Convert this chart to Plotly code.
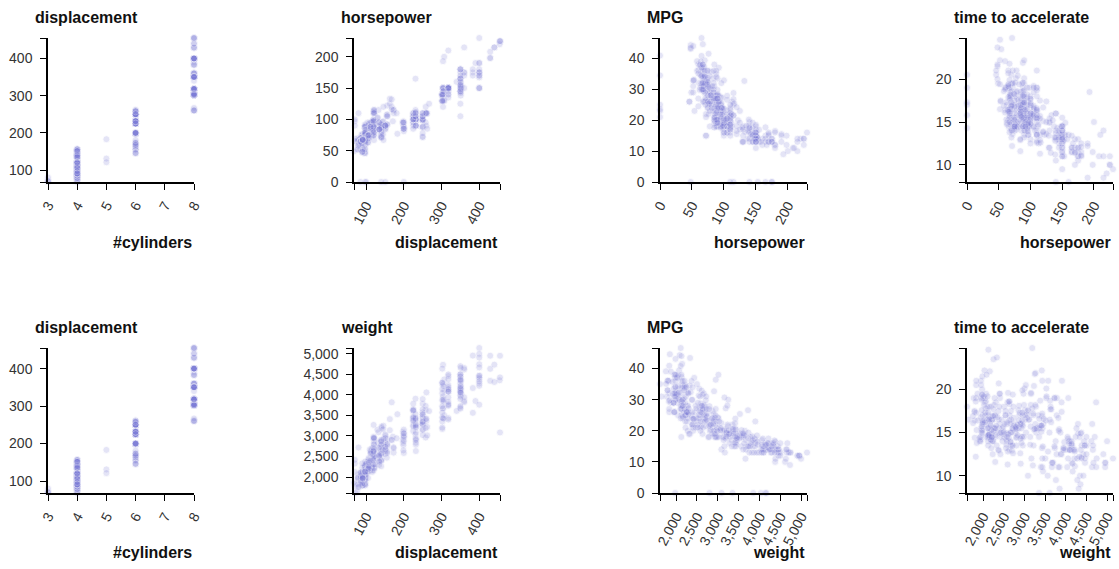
import plotly.graph_objects as go

# ---- data: cars dataset (nulls shown at 0), grouped by model year 70..82 ----
mpg = [
    18,15,18,16,17,15,14,14,14,15,None,None,None,None,None,15,14,None,15,14,24,22,18,21,27,26,25,24,25,26,21,10,10,11,9,
    27,28,25,25,None,19,16,17,19,18,14,14,14,14,12,13,13,18,22,19,18,23,28,30,30,31,35,27,26,24,25,23,20,21,
    13,14,15,14,17,11,13,12,13,19,15,13,13,14,18,22,21,26,22,28,23,28,27,
    13,14,13,14,15,12,13,13,14,13,12,13,18,16,18,18,23,26,11,12,13,12,18,20,21,22,18,19,21,26,15,16,29,24,20,19,15,24,20,11,
    20,21,19,15,31,26,32,25,16,16,18,16,13,14,14,14,29,26,26,31,32,28,24,26,24,26,31,
    19,18,15,15,16,15,16,14,17,16,15,18,21,20,13,29,23,20,23,24,25,24,18,29,19,23,23,22,25,33,
    28,25,25,26,27,17.5,16,15.5,14.5,22,22,24,22.5,29,24.5,29,33,20,18,18.5,17.5,29.5,32,28,26.5,20,13,19,19,16.5,16.5,13,13,13,
    31.5,30,36,25.5,33.5,17.5,17,15.5,15,17.5,20.5,19,18.5,16,15.5,15.5,16,29,24.5,26,25.5,30.5,33.5,30,30.5,22,21.5,21.5,
    43.1,36.1,32.8,39.4,36.1,19.9,19.4,20.2,19.2,20.5,20.2,25.1,20.5,19.4,20.6,20.8,18.6,18.1,19.2,17.7,18.1,17.5,30,27.5,27.2,30.9,21.1,23.2,23.8,23.9,20.3,17,21.6,16.2,31.5,29.5,
    21.5,19.8,22.3,20.2,20.6,17,17.6,16.5,18.2,16.9,15.5,19.2,18.5,31.9,34.1,35.7,27.4,25.4,23,27.2,23.9,34.2,34.5,31.8,37.3,28.4,28.8,26.8,33.5,
    41.5,38.1,32.1,37.2,28,26.4,24.3,19.1,34.3,29.8,31.3,37,32.2,46.6,27.9,40.8,44.3,43.4,36.4,30,44.6,40.9,33.8,29.8,32.7,23.7,35,23.6,32.4,
    27.2,26.6,25.8,23.5,30,39.1,39,35.1,32.3,37,37.7,34.1,34.7,34.4,29.9,33,34.5,33.7,32.4,32.9,31.6,28.1,None,30.7,25.4,24.2,22.4,26.6,20.2,17.6,
    28,27,34,31,29,27,24,23,36,37,31,38,36,36,36,34,38,32,38,25,38,26,22,32,36,27,27,44,32,28,31,
]
cylinders = [
    8,8,8,8,8,8,8,8,8,8,4,8,8,8,8,8,8,8,8,8,4,6,6,6,4,4,4,4,4,4,6,8,8,8,8,
    4,4,4,4,4,6,6,6,6,6,8,8,8,8,8,8,8,6,4,6,6,4,4,4,4,4,4,4,4,4,4,4,4,4,
    8,8,8,8,8,8,8,8,8,3,8,8,8,8,4,4,4,4,4,4,4,4,4,
    8,8,8,8,8,8,8,8,8,8,8,8,6,6,6,6,6,4,8,8,8,8,6,4,4,4,3,4,6,4,8,8,4,4,4,4,8,4,6,8,
    6,6,6,6,4,4,4,4,6,6,6,8,8,8,8,8,4,4,4,4,4,4,4,4,4,4,4,
    6,6,6,6,8,8,8,8,6,6,6,6,6,8,8,4,4,6,4,4,4,4,6,4,6,4,4,4,4,4,
    4,4,4,4,4,8,8,8,8,6,6,6,6,4,4,4,4,6,6,6,6,4,4,4,4,4,8,4,6,6,8,8,8,8,
    4,4,4,4,4,8,8,8,8,6,6,6,6,8,8,8,8,4,4,4,4,4,4,4,4,6,4,3,
    4,4,4,4,4,8,8,8,6,6,6,4,6,6,6,6,6,6,8,6,8,8,4,4,4,4,4,4,4,4,5,6,4,6,4,4,
    6,6,4,6,6,8,8,8,8,8,8,8,8,4,4,4,4,5,8,4,8,4,4,4,4,4,6,6,4,
    4,4,4,4,4,4,4,6,4,4,4,4,4,4,4,4,4,4,5,4,4,4,4,4,6,3,4,4,4,
    4,4,4,6,4,4,4,4,4,4,4,4,4,4,4,4,4,4,4,4,4,4,4,6,6,6,6,8,6,6,
    4,4,4,4,4,4,4,4,4,4,4,4,4,4,4,4,4,4,4,6,6,4,6,4,4,4,4,4,4,4,4,
]
displacement = [
    307,350,318,304,302,429,454,440,455,390,133,350,351,383,360,383,340,302,400,455,113,198,199,200,97,97,110,107,104,121,199,360,307,318,304,
    97,140,113,98,97,232,225,250,250,232,350,400,351,318,383,400,400,258,140,250,250,122,116,79,88,71,72,97,91,113,97.5,97,140,122,
    350,400,318,351,304,429,350,350,400,70,304,307,302,318,121,121,120,96,122,97,120,98,97,
    350,304,350,302,318,429,400,351,318,440,455,360,225,250,232,250,198,97,400,400,360,350,232,97,140,108,70,122,155,98,350,400,68,116,114,121,318,121,156,350,
    198,200,232,250,79,122,71,140,250,258,225,302,350,318,302,304,98,79,97,76,83,90,90,116,120,108,79,
    225,250,250,250,400,350,318,351,231,250,258,225,231,262,302,97,140,232,140,134,90,119,171,90,232,115,120,121,121,91,
    107,116,140,98,101,305,318,304,351,225,250,200,232,85,98,90,91,225,250,250,258,97,85,97,140,130,318,120,156,168,350,350,302,318,
    98,111,79,122,85,305,260,318,302,250,231,225,250,400,350,400,351,97,151,97,140,98,98,97,97,146,121,80,
    90,98,78,85,91,260,318,302,231,200,200,140,225,232,231,200,225,258,305,231,302,318,98,134,119,105,134,156,151,119,131,163,121,163,89,98,
    231,200,140,232,225,305,302,351,318,350,351,267,360,89,86,98,121,183,350,141,260,105,105,85,91,151,173,173,151,
    98,89,98,86,151,140,151,225,97,134,120,119,108,86,156,85,90,90,121,146,91,85,97,89,168,70,122,140,107,
    135,151,156,173,135,79,86,81,97,85,89,91,105,98,98,105,100,107,108,119,120,141,121,145,168,146,231,350,200,225,
    112,112,112,112,135,151,140,151,105,91,91,105,98,120,107,108,91,91,91,181,262,156,232,144,135,151,140,97,135,120,119,
]
horsepower = [
    130,165,150,150,140,198,220,215,225,190,115,165,153,175,175,170,160,140,150,225,95,95,97,85,88,46,87,90,95,113,90,215,200,210,193,
    88,90,95,None,48,100,105,100,88,100,165,175,153,150,180,170,175,110,72,100,88,86,90,70,76,65,69,60,70,95,80,54,90,86,
    165,175,150,153,150,208,155,160,190,97,150,130,140,150,112,76,87,69,86,92,97,80,88,
    175,150,145,137,150,198,150,158,150,215,225,175,105,100,100,88,95,46,150,167,170,180,100,88,72,94,90,85,107,90,145,230,49,75,91,112,150,110,122,180,
    95,None,100,100,67,80,65,75,100,110,105,140,150,150,140,150,83,67,78,52,61,75,75,75,97,93,67,
    95,105,72,72,170,145,150,148,110,105,110,95,110,110,129,75,83,100,78,96,71,97,97,70,90,95,88,98,115,53,
    86,81,92,79,83,140,150,120,152,100,105,81,90,52,60,70,53,100,78,110,95,71,70,75,72,102,150,88,108,120,180,145,130,150,
    68,80,58,96,70,145,110,145,130,110,105,100,98,180,170,190,149,78,88,75,89,63,83,67,78,97,110,110,
    48,66,52,70,60,110,140,139,105,95,85,88,100,90,105,85,110,120,145,165,139,140,68,95,97,75,95,105,85,97,103,125,115,133,71,68,
    115,85,88,90,110,130,129,138,135,155,142,125,150,71,65,80,80,77,125,71,90,70,70,65,69,90,115,115,90,
    76,60,70,65,90,88,90,90,78,90,75,92,75,65,105,65,48,48,67,67,67,None,67,62,132,100,88,None,72,
    84,84,92,110,84,58,64,60,67,65,62,68,63,65,65,74,None,75,75,100,74,80,110,76,116,120,110,105,88,85,
    88,88,88,85,84,90,92,None,74,68,68,63,70,88,75,70,67,67,67,110,85,92,112,96,84,90,86,52,84,79,82,
]
weight = [
    3504,3693,3436,3433,3449,4341,4354,4312,4425,3850,3090,4142,4034,4166,3850,3563,3609,3353,3761,3086,2372,2833,2774,2587,2130,1835,2672,2430,2375,2234,2648,4615,4376,4382,4732,
    2130,2264,2228,2046,1978,2634,3439,3329,3302,3288,4209,4464,4154,4096,4955,4746,5140,2962,2408,3282,3139,2220,2123,2074,2065,1773,1613,1834,1955,2278,2126,2254,2408,2226,
    4274,4385,4135,4129,3672,4633,4502,4456,4422,2330,3892,4098,4294,4077,2933,2511,2979,2189,2395,2288,2506,2164,2100,
    4100,3672,3988,4042,3777,4952,4464,4363,4237,4735,4951,3821,3121,3278,2945,3021,2904,1950,4997,4906,4654,4499,2789,2279,2401,2379,2124,2310,2472,2265,4082,4278,1867,2158,2582,2868,3399,2660,2807,3664,
    3102,2875,2901,3336,1950,2451,1836,2542,3781,3632,3613,4141,4699,4457,4638,4257,2219,1963,2300,1649,2003,2125,2108,2246,2489,2391,2000,
    3264,3459,3432,3158,4668,4440,4498,4657,3907,3897,3730,3785,3039,3221,3169,2171,2639,2914,2592,2702,2223,2545,2984,1937,3211,2694,2957,2945,2671,1795,
    2464,2220,2572,2255,2202,4215,4190,3962,4215,3233,3353,3012,3085,2035,2164,1937,1795,3651,3574,3645,3193,1825,1990,2155,2565,3150,3940,3270,2930,3820,4380,4055,3870,3755,
    2045,2155,1825,2300,1945,3880,4060,4140,4295,3520,3425,3630,3525,4220,4165,4325,4335,1940,2740,2265,2755,2051,2075,1985,2190,2815,2600,2720,
    1985,1800,1985,2070,1800,3365,3735,3570,3535,3155,2965,2720,3430,3210,3380,3070,3620,3410,3425,3445,3205,4080,2155,2560,2300,2230,2515,2745,2855,2405,2830,3140,2795,3410,1990,2135,
    3245,2990,2890,3265,3360,3840,3725,3955,3830,4360,4054,3605,3940,1925,1975,1915,2670,3530,3900,3190,3420,2200,2150,2020,2130,2670,2595,2700,2556,
    2144,1968,2120,2019,2678,2870,3003,3381,2188,2711,2542,2434,2265,2110,2800,2110,2085,2335,2950,3250,1850,1835,2145,1845,2910,2420,2500,2905,2290,
    2490,2635,2620,2725,2385,1755,1875,1760,2065,1975,2050,1985,2215,2045,2380,2190,2320,2210,2350,2615,2635,3230,2800,3160,2900,2930,3415,3725,3060,3465,
    2605,2640,2395,2575,2525,2735,2865,3035,1980,2025,1970,2125,2125,2160,2205,2245,1965,1965,1995,2945,3015,2585,2835,2665,2370,2950,2790,2130,2295,2625,2720,
]
acceleration = [
    12,11.5,11,12,10.5,10,9,8.5,10,8.5,17.5,11.5,11,10.5,11,10,8,8,9.5,10,15,15.5,15.5,16,14.5,20.5,17.5,14.5,17.5,12.5,15,14,15,13.5,18.5,
    14.5,15.5,14,19,20,13,15.5,15.5,15.5,15.5,12,11.5,13.5,13,11.5,12,12,13.5,19,15,14.5,14,14,19.5,14.5,19,18,19,20.5,15.5,17,23.5,19.5,16.5,
    12,12,13.5,13,11.5,11,13.5,13.5,12.5,13.5,12.5,14,16,14,14.5,18,19.5,18,16,17,14.5,15,16.5,
    13,11.5,13,14.5,12.5,11.5,12,13,14.5,11,11,11,16.5,18,16,16.5,16,21,14,12.5,13,12.5,15,19,19.5,16.5,13.5,18.5,14,15.5,13,9.5,19.5,15.5,14,15.5,11,14,13.5,11,
    16.5,17,16,17,19,16.5,21,17,17,18,16.5,14,14.5,13.5,16,15.5,16.5,15.5,14.5,16.5,19,14.5,15.5,14,15,15.5,16,
    16,16,21,19.5,11.5,14,14.5,13.5,21,18.5,19,19,15,13.5,12,16,17,16,18.5,13.5,16.5,17,14.5,14,17,15,17,14.5,13.5,17.5,
    15.5,16.9,14.9,17.7,15.3,13,13,13.9,12.8,15.4,14.5,17.6,17.6,22.2,22.1,14.2,17.4,17.7,21,16.2,17.8,12.2,17,16.4,13.6,15.7,13.2,21.9,15.5,16.7,12.1,12,15,14,
    18.5,14.8,18.6,15.5,16.8,12.5,19,13.7,14.9,16.4,16.9,17.7,19,11.1,11.4,12.2,14.5,14.5,16,18.2,15.8,17,15.9,16.4,14.1,14.5,12.8,13.5,
    21.5,14.4,19.4,18.6,16.4,15.5,13.2,12.8,19.2,18.2,15.8,15.4,17.2,17.2,15.8,16.7,18.7,15.1,13.2,13.4,11.2,13.7,16.5,14.2,14.7,14.5,14.8,16.7,17.6,14.9,15.9,13.6,15.7,15.8,14.9,16.6,
    15.4,18.2,17.3,18.2,16.6,15.4,13.4,13.2,15.2,14.9,14.3,15,13,14,15.2,14.4,15,20.1,17.4,24.8,22.2,13.2,14.9,19.2,14.7,16,11.3,12.9,13.2,
    14.7,18.8,15.5,16.4,16.5,18.1,20.1,18.7,15.8,15.5,17.5,15,15.2,17.9,14.4,19.2,21.7,23.7,19.9,21.8,13.8,17.3,18,15.3,11.4,12.5,15.1,14.3,17,
    15.7,16.4,14.4,12.6,12.9,16.9,16.4,16.1,17.8,19.4,17.3,16,14.9,16.2,20.7,14.2,15.8,14.4,16.8,14.8,18.3,20.4,15.4,19.6,12.6,13.8,15.8,19,17.1,16.6,
    19.6,18.6,18,16.2,16,18,16.4,20.5,15.3,18.2,17.6,14.7,17.3,14.5,14.5,16.9,15,15.7,16.2,16.4,17,14.5,14.7,13.9,13,17.3,15.6,24.6,11.6,18.6,19.4,
]

# tick labels per field
ticks = {
    "cyl": [3, 4, 5, 6, 7, 8],
    "disp": [100, 200, 300, 400],
    "hp": [0, 50, 100, 150, 200],
    "mpg": [0, 10, 20, 30, 40],
    "acc": [10, 15, 20],
    "weight": [2000, 2500, 3000, 3500, 4000, 4500, 5000],
}
labels = {"cyl": "#cylinders", "disp": "displacement", "hp": "horsepower",
          "mpg": "MPG", "acc": "time to accelerate", "weight": "weight"}

def z(v):
    return [0 if a is None else a for a in v]

fields = {"cyl": z(cylinders), "disp": z(displacement), "hp": z(horsepower),
          "mpg": z(mpg), "acc": z(acceleration), "weight": z(weight)}

# panels: (row, col, x field, y field)
panels = [(0, 0, "cyl", "disp"), (0, 1, "disp", "hp"), (0, 2, "hp", "mpg"), (0, 3, "hp", "acc"),
          (1, 0, "cyl", "disp"), (1, 1, "disp", "weight"), (1, 2, "weight", "mpg"), (1, 3, "weight", "acc")]

# ---- layout in pixels ----
W, H = 1119, 569
COLS = [(48, 194), (354, 500), (660, 807), (967, 1113)]
ROWS = [(38, 182), (348, 493)]
TITLE_Y = [17, 327]
XTITLE_Y = [242, 552]
FONT = "Liberation Sans, Arial, Helvetica, sans-serif"

fig = go.Figure()
annotations = []
layout = {}

def axis_ticks(field):
    vals = fields[field]
    lo, hi = min(vals), max(vals)
    tv = list(ticks[field])
    tt = [f"{t:,}" for t in tv]
    for e in (lo, hi):
        if e not in tv:
            tv.append(e)
            tt.append("")
    return lo, hi, tv, tt

title_font = dict(family=FONT, size=16, color="#111", weight="bold")

for i, (r, c, xf, yf) in enumerate(panels, start=1):
    sfx = "" if i == 1 else str(i)
    fig.add_trace(go.Scatter(
        x=fields[xf], y=fields[yf], mode="markers",
        xaxis="x" + sfx, yaxis="y" + sfx, cliponaxis=False, hoverinfo="skip",
        marker=dict(size=7, color="rgb(125,125,215)", opacity=0.2,
                    line=dict(color="white", width=0.8)),
        showlegend=False,
    ))
    x0, x1 = COLS[c]
    y0, y1 = ROWS[r]
    xlo, xhi, xtv, xtt = axis_ticks(xf)
    ylo, yhi, ytv, ytt = axis_ticks(yf)
    common = dict(showgrid=False, zeroline=False, showline=True, linecolor="black",
                  linewidth=1.5, ticks="outside", ticklen=6, tickwidth=1.2,
                  tickcolor="black", tickmode="array", automargin=False,
                  layer="above traces",
                  tickfont=dict(family=FONT, size=14, color="#333"), fixedrange=True)
    layout["xaxis" + sfx] = dict(common, domain=[x0 / W, x1 / W], range=[xlo, xhi],
                                 anchor="y" + sfx, tickvals=xtv, ticktext=xtt,
                                 tickangle=-62, ticklabelstandoff=2)
    layout["yaxis" + sfx] = dict(common, domain=[1 - y1 / H, 1 - y0 / H], range=[ylo, yhi],
                                 anchor="x" + sfx, tickvals=ytv, ticktext=ytt,
                                 ticklabelstandoff=5)
    annotations.append(dict(text=labels[yf], xref="paper", yref="paper",
                            x=(x0 - 15) / W, y=1 - TITLE_Y[r] / H, xanchor="left",
                            yanchor="middle", showarrow=False, font=title_font))
    annotations.append(dict(text=labels[xf], xref="paper", yref="paper",
                            x=x1 / W, y=1 - XTITLE_Y[r] / H, xanchor="right",
                            yanchor="middle", showarrow=False, font=title_font))

fig.update_layout(**layout)
fig.update_layout(width=W, height=H,
                  margin=dict(l=0, r=0, t=0, b=0, pad=0, autoexpand=False),
                  paper_bgcolor="white", plot_bgcolor="white",
                  annotations=annotations, showlegend=False)
fig.write_html("out.html", config={"displayModeBar": False},
               post_script="document.body.style.margin='0';document.body.style.overflow='hidden';")
